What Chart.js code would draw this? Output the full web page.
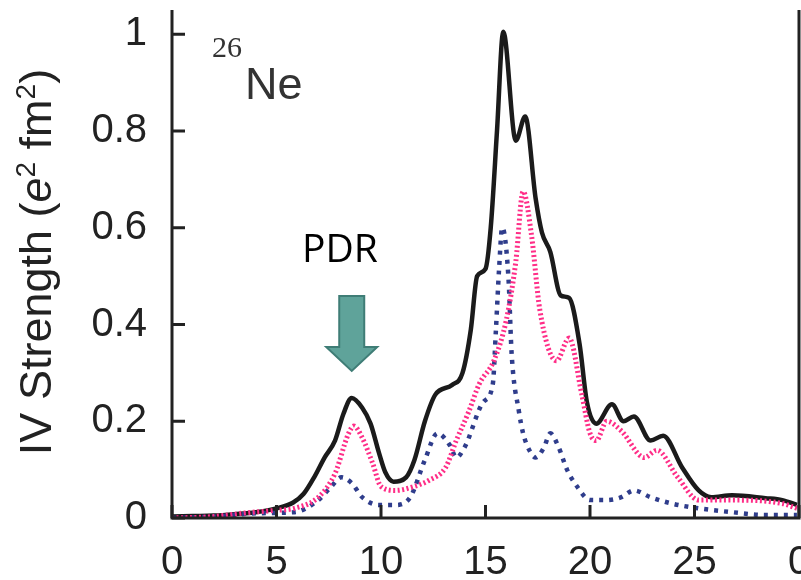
<!DOCTYPE html>
<html>
<head>
<meta charset="utf-8">
<script src="https://cdn.jsdelivr.net/npm/chart.js@4.4.1/dist/chart.umd.min.js"></script>
<style>
  body { margin: 0; background: #fff; }
  #wrap { width: 801px; height: 580px; position: relative; }
</style>
</head>
<body>
<div id="wrap"><canvas id="chart"></canvas></div>
<script>
// total strength (solid black line)
const blackE = [0, 1, 2, 3, 4, 5, 5.8, 6.3, 6.8, 7.3, 7.8, 8.2, 8.6, 9.1, 9.5, 9.9, 10.2, 10.6, 11.2, 11.6, 12.1, 12.6, 13.4, 13.9, 14.3, 14.6, 15.0, 15.25, 15.55, 15.85, 16.45, 16.9, 17.4, 17.7, 18.1, 18.6, 19.0, 19.5, 19.85, 20.3, 21.05, 21.6, 22.1, 22.9, 23.5, 24.4, 25.2, 25.8, 26.8, 28.4, 29.2, 29.9];
const blackS = [0.003, 0.004, 0.005, 0.008, 0.012, 0.02, 0.032, 0.05, 0.084, 0.125, 0.16, 0.215, 0.248, 0.228, 0.195, 0.135, 0.095, 0.075, 0.084, 0.12, 0.2, 0.255, 0.275, 0.3, 0.39, 0.5, 0.515, 0.6, 0.8, 1.005, 0.78, 0.83, 0.66, 0.59, 0.55, 0.46, 0.455, 0.36, 0.24, 0.195, 0.235, 0.2, 0.21, 0.16, 0.17, 0.105, 0.057, 0.043, 0.047, 0.041, 0.037, 0.027];

// pink dotted component
const pinkE = [0, 2, 3.4, 5, 5.85, 7, 7.8, 8.45, 8.7, 9.1, 9.6, 10.0, 10.7, 11.5, 12.3, 13.1, 13.6, 14.2, 14.7, 15.4, 16.0, 16.45, 16.8, 17.2, 17.6, 18.4, 19.0, 19.6, 20.0, 20.3, 20.8, 21.5, 22.6, 23.2, 24.2, 25.2, 26.8, 29.2, 29.9];
const pinkS = [0, 0.003, 0.01, 0.016, 0.02, 0.043, 0.092, 0.175, 0.19, 0.166, 0.113, 0.065, 0.057, 0.064, 0.078, 0.105, 0.16, 0.22, 0.277, 0.325, 0.41, 0.53, 0.675, 0.585, 0.43, 0.325, 0.372, 0.257, 0.175, 0.16, 0.2, 0.18, 0.125, 0.14, 0.084, 0.037, 0.037, 0.03, 0.02];

// blue dotted component
const blueE = [0, 2, 4.2, 5.85, 7, 7.6, 8.1, 8.6, 9.1, 9.9, 10.7, 11.4, 12.1, 12.7, 13.3, 13.6, 14.0, 14.9, 15.35, 15.5, 15.65, 15.8, 16.1, 16.25, 16.6, 16.8, 17.1, 17.4, 17.8, 18.1, 18.5, 18.9, 19.4, 20.0, 20.8, 21.5, 22.1, 22.9, 23.9, 25.2, 26.8, 28.4, 29.9];
const blueS = [0, 0.003, 0.01, 0.012, 0.037, 0.064, 0.084, 0.072, 0.043, 0.027, 0.027, 0.043, 0.12, 0.175, 0.15, 0.125, 0.146, 0.24, 0.277, 0.39, 0.515, 0.6, 0.495, 0.34, 0.22, 0.175, 0.14, 0.125, 0.146, 0.175, 0.146, 0.1, 0.064, 0.037, 0.037, 0.043, 0.057, 0.043, 0.03, 0.02, 0.012, 0.006, 0.006];

// the last label is the "0" of the next panel, cut by the right edge
const xTicks = [0, 5, 10, 15, 20, 25, 30];
const xTickLabels = ['0', '5', '10', '15', '20', '25', '0'];
const yTicks = [0, 0.2, 0.4, 0.6, 0.8, 1];
const yTickLabels = ['0', '0.2', '0.4', '0.6', '0.8', '1'];

const ink = '#222';
const sans = '"Liberation Sans", Arial, sans-serif';

function pts(es, ss) {
  return es.map((e, i) => ({ x: e, y: ss[i] }));
}

// frame, inward tick marks and the text/arrow annotations
const decor = {
  id: 'decor',
  afterDraw(chart) {
    const ctx = chart.ctx;
    const a = chart.chartArea;
    const xs = chart.scales.x, ys = chart.scales.y;
    ctx.save();
    ctx.strokeStyle = ink;
    ctx.lineWidth = 3;
    ctx.beginPath();
    ctx.moveTo(a.left, a.top);
    ctx.lineTo(a.left, a.bottom);
    ctx.lineTo(a.right, a.bottom);
    ctx.lineTo(a.right, a.top);
    ctx.stroke();
    ctx.beginPath();
    xTicks.forEach(v => {
      const px = xs.getPixelForValue(v);
      ctx.moveTo(px, a.bottom);
      ctx.lineTo(px, a.bottom - 13);
    });
    yTicks.forEach(v => {
      const py = ys.getPixelForValue(v);
      ctx.moveTo(a.left, py);
      ctx.lineTo(a.left + 13, py);
    });
    ctx.stroke();

    // y axis title with italic e and superscripts
    const parts = [
      { t: 'IV Strength (', f: '45px ' + sans, dy: 0 },
      { t: 'e', f: 'italic 45px ' + sans, dy: 0 },
      { t: '2', f: '28px ' + sans, dy: -16 },
      { t: ' fm', f: '45px ' + sans, dy: 0 },
      { t: '2', f: '28px ' + sans, dy: -16 },
      { t: ')', f: '45px ' + sans, dy: 0 }
    ];
    let total = 0;
    parts.forEach(p => { ctx.font = p.f; p.w = ctx.measureText(p.t).width; total += p.w; });
    ctx.translate(51, 262);
    ctx.rotate(-Math.PI / 2);
    ctx.fillStyle = ink;
    ctx.textBaseline = 'alphabetic';
    ctx.textAlign = 'left';
    let cx = -total / 2;
    parts.forEach(p => { ctx.font = p.f; ctx.fillText(p.t, cx, p.dy); cx += p.w; });
    ctx.setTransform(1, 0, 0, 1, 0, 0);

    // 26Ne label
    ctx.fillStyle = '#333';
    ctx.font = '30px "Liberation Serif", serif';
    ctx.fillText('26', 212, 57);
    ctx.font = '45px ' + sans;
    ctx.fillText('Ne', 245, 99);

    // PDR label and arrow
    ctx.fillStyle = '#000';
    ctx.font = '39px "Open Sans", sans-serif';
    ctx.textAlign = 'center';
    ctx.fillText('PDR', 340, 262);

    const tx = xs.getPixelForValue(8.6), ty = ys.getPixelForValue(0.304);
    ctx.beginPath();
    ctx.moveTo(tx - 12.5, ty - 75);
    ctx.lineTo(tx + 12.5, ty - 75);
    ctx.lineTo(tx + 12.5, ty - 24);
    ctx.lineTo(tx + 25.5, ty - 24);
    ctx.lineTo(tx, ty);
    ctx.lineTo(tx - 25.5, ty - 24);
    ctx.lineTo(tx - 12.5, ty - 24);
    ctx.closePath();
    ctx.fillStyle = '#5fa39a';
    ctx.fill();
    ctx.strokeStyle = '#3f7d76';
    ctx.lineWidth = 2;
    ctx.stroke();
    ctx.restore();
  }
};

new Chart(document.getElementById('chart'), {
  type: 'line',
  data: {
    datasets: [
      {
        data: pts(pinkE, pinkS),
        borderColor: '#ff2d87',
        borderWidth: 5,
        borderDash: [2, 2.5],
        pointRadius: 0,
        cubicInterpolationMode: 'monotone',
        order: 0
      },
      {
        data: pts(blueE, blueS),
        borderColor: '#2f3d8c',
        borderWidth: 4.5,
        borderDash: [4, 6],
        pointRadius: 0,
        cubicInterpolationMode: 'monotone',
        order: 1
      },
      {
        data: pts(blackE, blackS),
        borderColor: '#1b1b1b',
        borderWidth: 4.5,
        pointRadius: 0,
        cubicInterpolationMode: 'monotone',
        order: 2
      }
    ]
  },
  options: {
    responsive: true,
    maintainAspectRatio: false,
    animation: false,
    layout: { padding: { left: 0, right: 2, top: 10, bottom: 0 } },
    plugins: { legend: { display: false }, tooltip: { enabled: false } },
    scales: {
      x: {
        type: 'linear',
        min: 0,
        max: 30,
        grid: { display: false, drawTicks: false },
        border: { display: false },
        afterBuildTicks: s => { s.ticks = xTicks.map(v => ({ value: v })); },
        afterFit: s => { s.height = 62; s.paddingLeft = 0; s.paddingRight = 0; },
        ticks: {
          padding: 21,
          color: ink,
          maxRotation: 0,
          autoSkip: false,
          font: { family: sans, size: 40 },
          callback: (v, i) => xTickLabels[i]
        }
      },
      y: {
        min: 0,
        max: 1.05,
        grid: { display: false, drawTicks: false },
        border: { display: false },
        afterBuildTicks: s => { s.ticks = yTicks.map(v => ({ value: v })); },
        afterFit: s => { s.width = 172; s.paddingTop = 0; s.paddingBottom = 0; },
        ticks: {
          padding: 25,
          color: ink,
          font: { family: sans, size: 40 },
          callback: (v, i) => yTickLabels[i]
        }
      }
    }
  },
  plugins: [decor]
});
</script>
</body>
</html>
